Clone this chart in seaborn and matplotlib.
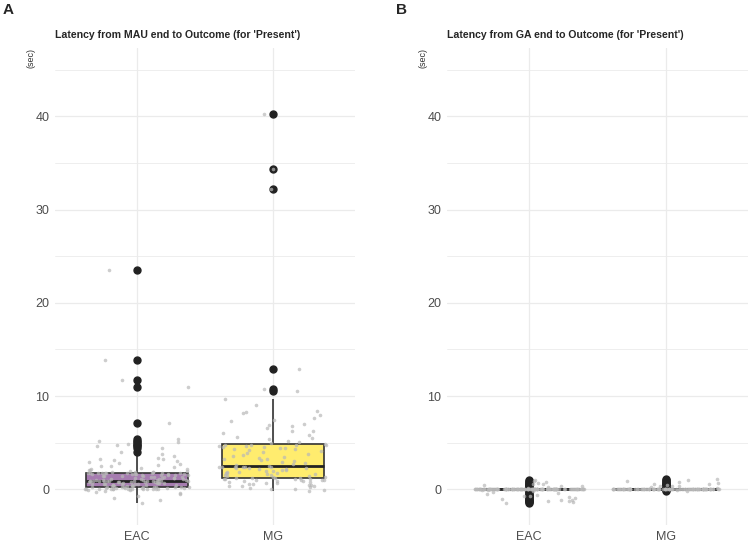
import numpy as np
import pandas as pd
import matplotlib
matplotlib.use("Agg")
import matplotlib.pyplot as plt
import seaborn as sns

# values (seconds)
eac_mau = [-1.5, -1.2, -0.9, -0.7, -0.5, -0.4, -0.3, -0.2, -0.1, -0.05,
           0.0, 0.0, 0.0, 0.0, 0.0, 0.0, 0.0, 0.0, 0.0, 0.0,
           0.02, 0.05, 0.05, 0.08, 0.1, 0.1, 0.12, 0.15, 0.15, 0.18,
           0.2, 0.2, 0.22, 0.22, 0.24, 0.25, 0.25, 0.25, 0.25, 0.25,
           0.3, 0.32, 0.35, 0.38, 0.4, 0.42, 0.45, 0.48, 0.5, 0.5,
           0.52, 0.55, 0.58, 0.6, 0.6, 0.62, 0.65, 0.68, 0.7, 0.7,
           0.72, 0.75, 0.75, 0.78, 0.8, 0.8, 0.82, 0.85, 0.85, 0.88,
           0.88, 0.9, 0.9, 0.9, 0.92, 0.92, 0.93, 0.93, 0.93, 0.93,
           0.95, 0.98, 1.0, 1.02, 1.05, 1.08, 1.1, 1.12, 1.15, 1.18,
           1.2, 1.22, 1.25, 1.28, 1.3, 1.32, 1.35, 1.38, 1.4, 1.42,
           1.45, 1.48, 1.5, 1.52, 1.55, 1.58, 1.6, 1.6, 1.62, 1.65,
           1.65, 1.68, 1.7, 1.7, 1.72, 1.72, 1.74, 1.75, 1.75, 1.75,
           1.78, 1.8, 1.82, 1.85, 1.88, 1.9, 1.95, 2.0, 2.05, 2.1,
           2.15, 2.2, 2.3, 2.4, 2.45, 2.5, 2.6, 2.7, 2.8, 2.9,
           3.0, 3.1, 3.2, 3.3, 3.4, 3.6, 3.8, 4.0,
           4.45, 4.6, 4.75, 4.9, 5.05, 5.2, 5.35, 7.1, 11.0, 11.7, 13.9, 23.5]
mg_mau = [-0.2, -0.1, 0.0, 0.0, 0.1, 0.2, 0.3, 0.3, 0.4, 0.5,
          0.5, 0.6, 0.6, 0.7, 0.7, 0.8, 0.8, 0.85, 0.9, 0.9,
          0.95, 1.0, 1.0, 1.05, 1.1, 1.1, 1.12, 1.15, 1.18, 1.18,
          1.2, 1.25, 1.3, 1.35, 1.4, 1.45, 1.5, 1.55, 1.6, 1.65,
          1.7, 1.75, 1.8, 1.85, 1.9, 1.95, 2.0, 2.05, 2.1, 2.15,
          2.2, 2.25, 2.3, 2.32, 2.35, 2.38, 2.4, 2.42, 2.43, 2.43,
          2.5, 2.6, 2.7, 2.8, 2.9, 3.0, 3.1, 3.2, 3.3, 3.4,
          3.5, 3.6, 3.7, 3.8, 3.9, 4.0, 4.1, 4.2, 4.3, 4.35,
          4.4, 4.45, 4.5, 4.55, 4.6, 4.65, 4.7, 4.75, 4.8, 4.8,
          4.9, 5.0, 5.1, 5.2, 5.4, 5.5, 5.6, 5.8, 6.0, 6.2,
          6.3, 6.6, 6.8, 6.9, 7.0, 7.3, 7.4, 7.6, 8.0, 8.2,
          8.3, 8.4, 9.0, 9.65, 10.5, 10.8, 12.9, 32.2, 34.4, 40.2]
eac_ga = [-1.5, -1.4, -1.3, -1.2, -1.1, -1.0, -0.9, -0.8, -0.7, -0.6,
          -0.5, -0.4, -0.3, -0.2, -0.1, -0.05, 0.05, 0.1, 0.2, 0.3,
          0.4, 0.5, 0.6, 0.7, 0.8, 0.9, 1.0, -1.3, -0.7, 0.6] + [0.0] * 120
mg_ga = [-0.2, -0.1, 0.05, 0.1, 0.2, 0.3, 0.4, 0.5, 0.6, 0.7,
         0.8, 0.9, 1.0, 1.1, 0.6, 0.3] + [0.0] * 100

groups = ["EAC", "MG"]
box_colors = ["#A67CB0", "#FFEC6E"]
titles = ["Latency from MAU end to Outcome (for 'Present')",
          "Latency from GA end to Outcome (for 'Present')"]
panel_tags = ["A", "B"]

df_a = pd.DataFrame({"group": ["EAC"] * len(eac_mau) + ["MG"] * len(mg_mau),
                     "latency": eac_mau + mg_mau})
df_b = pd.DataFrame({"group": ["EAC"] * len(eac_ga) + ["MG"] * len(mg_ga),
                     "latency": eac_ga + mg_ga})

sns.set_style("white")
plt.rcParams["font.family"] = ["Liberation Sans", "DejaVu Sans"]
np.random.seed(3)

fig = plt.figure(figsize=(7.49, 5.44), dpi=100)
ax_a = fig.add_axes([55 / 749, 1 - 525 / 544, 300 / 749, 477 / 544])
ax_b = fig.add_axes([447 / 749, 1 - 525 / 544, 301 / 749, 477 / 544])

for ax, df, title in zip([ax_a, ax_b], [df_a, df_b], titles):
    for y in range(-5, 50, 5):
        ax.axhline(y, color="#EBEBEB", lw=0.9 if y % 10 == 0 else 0.6, zorder=0)
    for x in range(len(groups)):
        ax.axvline(x, color="#EBEBEB", lw=0.9, zorder=0)
    sns.boxplot(data=df, x="group", y="latency", hue="group", order=groups,
                palette=box_colors, saturation=1, width=0.75,
                linecolor="#333333", linewidth=1.2, legend=False,
                showcaps=False, ax=ax,
                flierprops=dict(marker="o", markersize=5,
                                markerfacecolor="#222222",
                                markeredgecolor="#222222"),
                boxprops=dict(zorder=2), whiskerprops=dict(zorder=2),
                medianprops=dict(linewidth=2, color="#222222", zorder=2))
    sns.stripplot(data=df, x="group", y="latency", order=groups, jitter=0.4,
                  color="#B8B8B8", size=2.6, alpha=0.7, linewidth=0,
                  ax=ax, zorder=3)
    ax.set_xlim(-0.6, 1.6)
    ax.set_ylim(-3.83, 47.33)
    ax.set_yticks([0, 10, 20, 30, 40])
    ax.tick_params(length=0, labelsize=9, labelcolor="#4D4D4D", pad=4)
    ax.set_xlabel("")
    ax.set_ylabel("(sec)", loc="top", fontsize=6.5, color="#333333")
    ax.yaxis.set_label_coords(-0.066, 1.0)
    ax.set_title(title, loc="left", fontsize=7.6, fontweight="bold", pad=7)
    for s in ax.spines.values():
        s.set_visible(False)

fig.text(3 / 749, 1 - 3 / 544, panel_tags[0], fontsize=11, fontweight="bold",
         ha="left", va="top")
fig.text(396 / 749, 1 - 3 / 544, panel_tags[1], fontsize=11, fontweight="bold",
         ha="left", va="top")

fig.savefig("out.png", dpi=100)
